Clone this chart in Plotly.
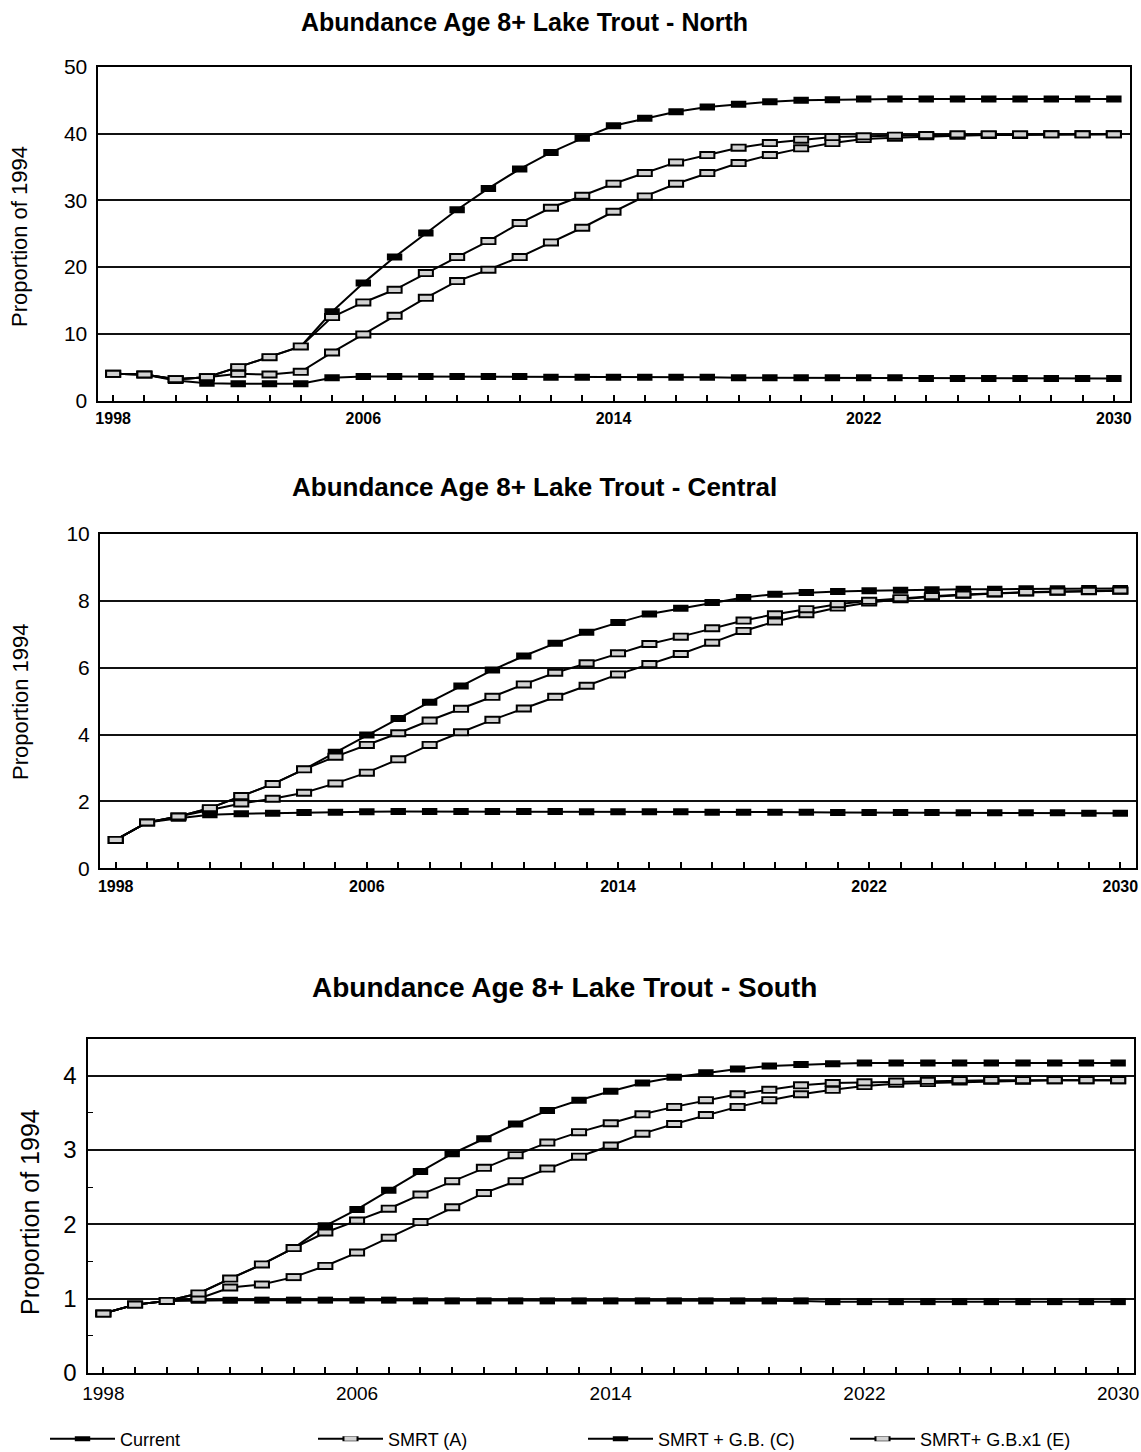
import plotly.graph_objects as go

# ---------------- data ----------------
years = list(range(1998, 2031))
x_tick_labels = ["1998", "2006", "2014", "2022", "2030"]

series_names = ["Current", "SMRT (A)", "SMRT + G.B. (C)", "SMRT+ G.B.x1 (E)"]

north_current = [4.0, 3.9, 3.0, 2.6, 2.5, 2.5, 2.5, 3.4, 3.6, 3.6, 3.6, 3.6, 3.6, 3.6,
                 3.5, 3.5, 3.5, 3.5, 3.5, 3.5, 3.4, 3.4, 3.4, 3.4, 3.4, 3.4,
                 3.3, 3.3, 3.3, 3.3, 3.3, 3.3, 3.3]
north_smrt_a = [4.0, 3.9, 3.2, 3.5, 4.0, 3.9, 4.3, 7.2, 9.9, 12.7, 15.4, 17.9, 19.6, 21.5,
                23.7, 25.9, 28.3, 30.6, 32.5, 34.1, 35.6, 36.8, 37.8, 38.6, 39.2, 39.4,
                39.6, 39.7, 39.8, 39.8, 39.9, 39.9, 39.9]
north_gb_c = [4.0, 3.9, 3.2, 3.5, 5.0, 6.5, 8.1, 13.3, 17.6, 21.5, 25.1, 28.6, 31.8, 34.7,
              37.2, 39.3, 41.2, 42.3, 43.3, 44.0, 44.4, 44.8, 45.0, 45.1, 45.2, 45.2,
              45.2, 45.2, 45.2, 45.2, 45.2, 45.2, 45.2]
north_gbx1_e = [4.0, 3.9, 3.2, 3.5, 5.0, 6.5, 8.1, 12.5, 14.7, 16.6, 19.1, 21.5, 23.9, 26.6,
                28.9, 30.7, 32.5, 34.1, 35.7, 36.8, 37.9, 38.6, 39.1, 39.5, 39.6, 39.7,
                39.8, 39.9, 39.9, 39.9, 39.9, 39.9, 39.9]

central_current = [0.85, 1.37, 1.50, 1.60, 1.63, 1.65, 1.67, 1.68, 1.69, 1.70, 1.70, 1.70,
                   1.70, 1.70, 1.70, 1.69, 1.69, 1.69, 1.69, 1.68, 1.68, 1.68, 1.68, 1.67,
                   1.67, 1.67, 1.67, 1.66, 1.66, 1.66, 1.66, 1.65, 1.65]
central_smrt_a = [0.85, 1.37, 1.55, 1.75, 1.94, 2.08, 2.26, 2.54, 2.86, 3.26, 3.69, 4.07,
                  4.44, 4.78, 5.13, 5.46, 5.80, 6.11, 6.41, 6.75, 7.10, 7.38, 7.60, 7.80,
                  7.95, 8.05, 8.12, 8.18, 8.22, 8.25, 8.27, 8.29, 8.30]
central_gb_c = [0.85, 1.37, 1.55, 1.80, 2.16, 2.52, 2.96, 3.47, 3.99, 4.48, 4.97, 5.45,
                5.93, 6.35, 6.73, 7.06, 7.35, 7.61, 7.78, 7.95, 8.10, 8.20, 8.25, 8.28,
                8.30, 8.32, 8.33, 8.35, 8.35, 8.36, 8.36, 8.37, 8.37]
central_gbx1_e = [0.85, 1.37, 1.55, 1.80, 2.16, 2.52, 2.96, 3.34, 3.69, 4.04, 4.42, 4.77,
                  5.13, 5.50, 5.85, 6.13, 6.43, 6.71, 6.93, 7.18, 7.41, 7.60, 7.75, 7.90,
                  8.00, 8.08, 8.14, 8.19, 8.23, 8.26, 8.28, 8.30, 8.31]

south_current = [0.80, 0.92, 0.97, 0.98, 0.98, 0.98, 0.98, 0.98, 0.98, 0.98, 0.97, 0.97,
                 0.97, 0.97, 0.97, 0.97, 0.97, 0.97, 0.97, 0.97, 0.97, 0.97, 0.97, 0.96,
                 0.96, 0.96, 0.96, 0.96, 0.96, 0.96, 0.96, 0.96, 0.96]
south_smrt_a = [0.80, 0.92, 0.97, 1.00, 1.15, 1.19, 1.29, 1.44, 1.62, 1.82, 2.03, 2.23,
                2.42, 2.58, 2.75, 2.91, 3.06, 3.22, 3.35, 3.47, 3.58, 3.67, 3.75, 3.81,
                3.86, 3.89, 3.90, 3.92, 3.93, 3.93, 3.94, 3.94, 3.94]
south_gb_c = [0.80, 0.92, 0.97, 1.07, 1.27, 1.46, 1.68, 1.98, 2.20, 2.46, 2.71, 2.95,
              3.15, 3.35, 3.53, 3.67, 3.79, 3.90, 3.98, 4.04, 4.09, 4.13, 4.15, 4.16,
              4.17, 4.17, 4.17, 4.17, 4.17, 4.17, 4.17, 4.17, 4.17]
south_gbx1_e = [0.80, 0.92, 0.97, 1.07, 1.27, 1.46, 1.68, 1.89, 2.05, 2.21, 2.40, 2.58,
                2.76, 2.93, 3.10, 3.24, 3.36, 3.48, 3.58, 3.67, 3.75, 3.81, 3.87, 3.90,
                3.91, 3.92, 3.93, 3.94, 3.94, 3.94, 3.94, 3.94, 3.94]

# ---------------- layout ----------------
W, H = 1141, 1452
FONT = "Liberation Sans, Arial, sans-serif"
HATCH = "#d2d2d2"

panels = [
    dict(title="Abundance Age 8+ Lake Trout - North", ytitle="Proportion of 1994",
         series=[north_current, north_smrt_a, north_gb_c, north_gbx1_e],
         yrange=[0, 50], dtick=10, minor=None,
         box=(97.5, 1129.5, 67, 400.5), title_pos=(524, 22), title_size=25,
         ytitle_pos=(20, 237), ytitle_size=22, ytick_size=21, xtick_size=16,
         xtick_weight="bold"),
    dict(title="Abundance Age 8+ Lake Trout - Central", ytitle="Proportion 1994",
         series=[central_current, central_smrt_a, central_gb_c, central_gbx1_e],
         yrange=[0, 10], dtick=2, minor=None,
         box=(100, 1136, 534, 868.3), title_pos=(534, 487), title_size=26,
         ytitle_pos=(20, 702), ytitle_size=22, ytick_size=21, xtick_size=16,
         xtick_weight="bold"),
    dict(title="Abundance Age 8+ Lake Trout - South", ytitle="Proportion of 1994",
         series=[south_current, south_smrt_a, south_gb_c, south_gbx1_e],
         yrange=[0, 4.5], dtick=1, minor=0.5,
         box=(87.5, 1134, 1038.5, 1373), title_pos=(564, 987), title_size=28,
         ytitle_pos=(30, 1212), ytitle_size=25, ytick_size=24, xtick_size=19,
         xtick_weight="normal"),
]

fig = go.Figure()
annotations = []
tickvals = years
ticktext = [str(y) if str(y) in x_tick_labels else "" for y in years]

legend_ids = {0: "legend", 1: "legend2", 2: "legend3", 3: "legend4"}
overlay_legend = {1: "legend5", 3: "legend6"}

for p_i, p in enumerate(panels):
    sfx = "" if p_i == 0 else str(p_i + 1)
    xa, ya = "x" + sfx, "y" + sfx
    l, r, t, b = p["box"]
    cur, a, c, e = p["series"]
    draw_order = [(0, cur), (2, c), (1, a), (3, e)]
    for s_i, vals in draw_order:
        hollow = s_i in (1, 3)
        fig.add_trace(go.Scatter(
            x=years, y=vals, mode="lines+markers", name=series_names[s_i],
            xaxis=xa, yaxis=ya, showlegend=(p_i == 0), legend=legend_ids[s_i],
            line=dict(color="black", width=2),
            marker=dict(symbol="line-ew", size=11.5 if hollow else 11,
                        color="black",
                        line=dict(color="black", width=8 if hollow else 7)),
        ))
        if hollow:
            fig.add_trace(go.Scatter(
                x=years, y=vals, mode="markers", name=series_names[s_i],
                xaxis=xa, yaxis=ya, showlegend=(p_i == 0),
                legend=overlay_legend[s_i],
                marker=dict(symbol="line-ew", size=8.6, color=HATCH,
                            line=dict(color=HATCH, width=4.2)),
            ))

    xdom = [l / W, r / W]
    ydom = [1 - b / H, 1 - t / H]
    fig.layout["xaxis" + sfx] = dict(
        domain=xdom, anchor=ya, range=[1997.5, 2030.5],
        tickmode="array", tickvals=tickvals, ticktext=ticktext,
        ticks="inside", ticklen=6, tickwidth=1.5, tickcolor="black",
        ticklabelstandoff=2,
        tickfont=dict(family=FONT, size=p["xtick_size"], color="black",
                      weight=p["xtick_weight"]),
        showgrid=False, zeroline=False,
        showline=True, mirror=True, linecolor="black", linewidth=2,
    )
    yax = dict(
        domain=ydom, anchor=xa, range=p["yrange"], dtick=p["dtick"], tick0=0,
        ticks="", ticklabelstandoff=4,
        tickfont=dict(family=FONT, size=p["ytick_size"], color="black"),
        showgrid=True, gridcolor="#111111", gridwidth=1.8, zeroline=False,
        showline=True, mirror=True, linecolor="black", linewidth=2,
    )
    if p["minor"]:
        yax["minor"] = dict(dtick=p["minor"], tick0=0, ticks="inside", ticklen=5,
                            tickwidth=1.2, tickcolor="black", showgrid=False)
    fig.layout["yaxis" + sfx] = yax

    tx, ty = p["title_pos"]
    annotations.append(dict(
        text="<b>" + p["title"] + "</b>", xref="paper", yref="paper",
        x=tx / W, y=1 - ty / H, xanchor="center", yanchor="middle",
        showarrow=False, font=dict(family=FONT, size=p["title_size"], color="black")))
    yx, yy = p["ytitle_pos"]
    annotations.append(dict(
        text=p["ytitle"], xref="paper", yref="paper", textangle=-90,
        x=yx / W, y=1 - yy / H, xanchor="center", yanchor="middle",
        showarrow=False, font=dict(family=FONT, size=p["ytitle_size"], color="black")))

leg_y = 1 - 1439 / H
leg_x = {"legend": 45, "legend2": 313, "legend3": 583, "legend4": 845,
         "legend5": 313, "legend6": 845}
legend_layout = {}
for key, px in leg_x.items():
    transparent = key in ("legend5", "legend6")
    legend_layout[key] = dict(
        x=px / W, y=leg_y, xanchor="left", yanchor="middle",
        orientation="h", bgcolor="rgba(0,0,0,0)", borderwidth=0,
        itemwidth=65, itemclick=False,
        font=dict(family=FONT, size=18,
                  color="rgba(0,0,0,0)" if transparent else "black"),
    )

fig.update_layout(
    width=W, height=H,
    margin=dict(l=0, r=0, t=0, b=0, autoexpand=False),
    paper_bgcolor="white", plot_bgcolor="white",
    annotations=annotations,
    **legend_layout,
)

fig.write_html(
    "out.html",
    config={"displayModeBar": False},
    post_script="document.body.style.margin='0';document.body.style.overflow='hidden';",
)
